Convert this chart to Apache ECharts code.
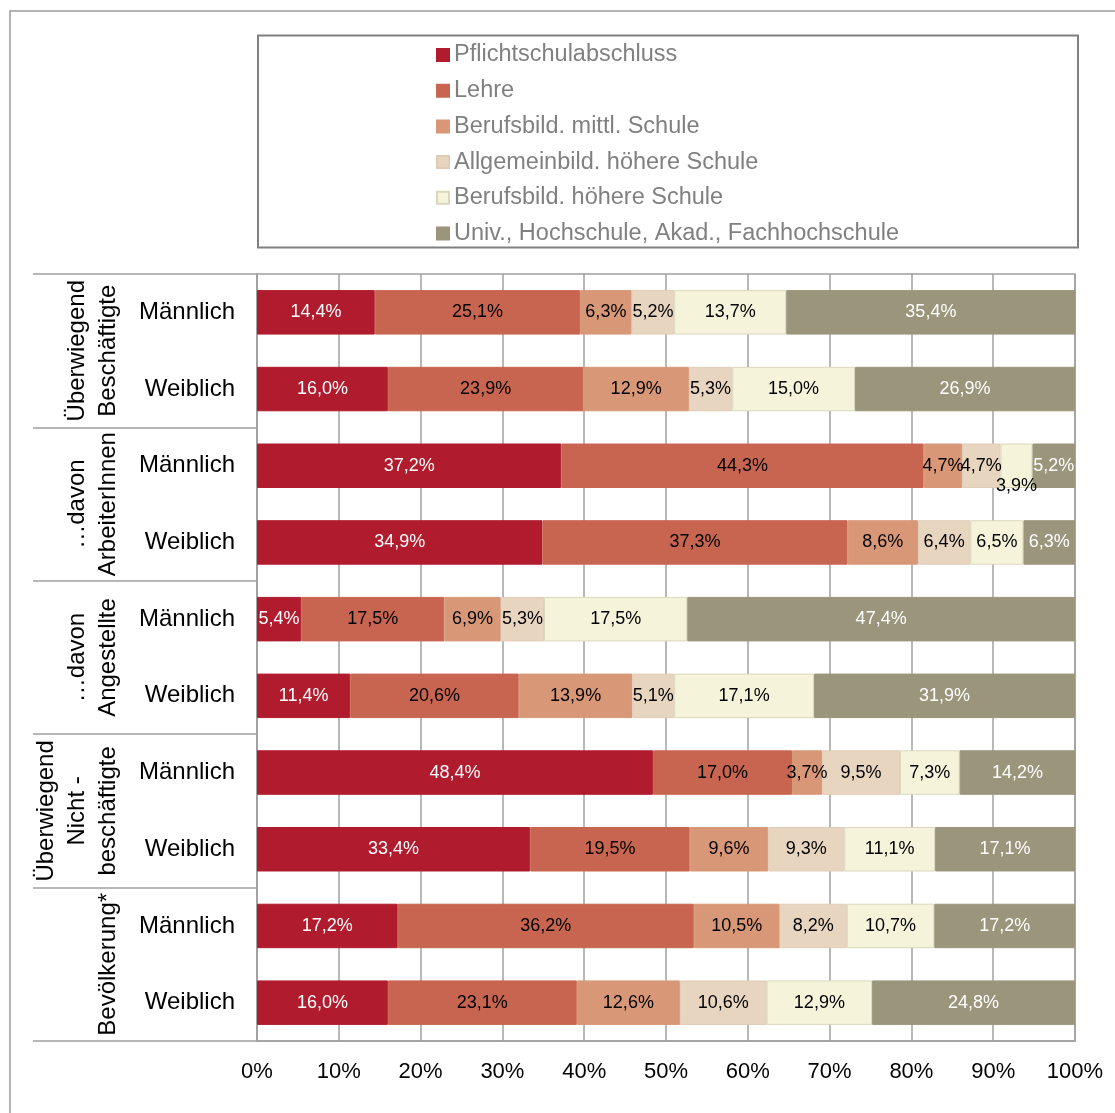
<!DOCTYPE html>
<html>
<head>
<meta charset="utf-8">
<script src="https://cdn.jsdelivr.net/npm/echarts@6/dist/echarts.min.js"></script>
<style>
html,body{margin:0;padding:0;background:#fff;}
#c{width:1115px;height:1113px;}
</style>
</head>
<body>
<div id="c"></div>
<script>
const groups = ['Überwiegend\nBeschäftigte', '…davon\nArbeiterInnen', '…davon\nAngestellte', 'Überwiegend\nNicht -\nbeschäftigte', 'Bevölkerung*'];
const genders = ['Männlich', 'Weiblich', 'Männlich', 'Weiblich', 'Männlich', 'Weiblich', 'Männlich', 'Weiblich', 'Männlich', 'Weiblich'];
const seriesNames = ['Pflichtschulabschluss', 'Lehre', 'Berufsbild. mittl. Schule', 'Allgemeinbild. höhere Schule', 'Berufsbild. höhere Schule', 'Univ., Hochschule, Akad., Fachhochschule'];
const pflicht   = [14.4, 16.0, 37.2, 34.9, 5.4, 11.4, 48.4, 33.4, 17.2, 16.0];
const lehre     = [25.1, 23.9, 44.3, 37.3, 17.5, 20.6, 17.0, 19.5, 36.2, 23.1];
const mittl     = [6.3, 12.9, 4.7, 8.6, 6.9, 13.9, 3.7, 9.6, 10.5, 12.6];
const allgHoehe = [5.2, 5.3, 4.7, 6.4, 5.3, 5.1, 9.5, 9.3, 8.2, 10.6];
const berufHoehe= [13.7, 15.0, 3.9, 6.5, 17.5, 17.1, 7.3, 11.1, 10.7, 12.9];
const univ      = [35.4, 26.9, 5.2, 6.3, 47.4, 31.9, 14.2, 17.1, 17.2, 24.8];
const xTicks = [0, 10, 20, 30, 40, 50, 60, 70, 80, 90, 100];

const values = [pflicht, lehre, mittl, allgHoehe, berufHoehe, univ];
const colors = ['#B01C2E', '#C86550', '#D89878', '#E8D5C0', '#F6F3DB', '#9B957C'];
const borders = ['#B01C2E', '#C86550', '#D89878', '#E0CCB6', '#DAD7BC', '#9B957C'];
const labelColors = ['#ffffff', '#000000', '#000000', '#000000', '#000000', '#ffffff'];
const FONT = '"Liberation Sans", Arial, sans-serif';
const gray = '#A0A0A0';

const series = values.map((arr, si) => ({
  name: seriesNames[si],
  type: 'bar',
  stack: 'all',
  yAxisIndex: 0,
  barCategoryGap: '42%',
  itemStyle: { color: colors[si], borderColor: borders[si], borderWidth: 1 },
  label: {
    show: true,
    position: 'inside',
    color: labelColors[si],
    fontSize: 18,
    fontFamily: FONT,
    formatter: p => p.value.toFixed(1).replace('.', ',') + '%'
  },
  data: arr.map((v, i) => {
    // small Berufsbild. höhere Schule label in ArbeiterInnen/Männlich sits below the bar
    if (si === 4 && i === 2) return { value: v, label: { offset: [0, 20] } };
    return v;
  })
}));

const chart = echarts.init(document.getElementById('c'), null, { renderer: 'canvas' });
chart.setOption({
  animation: false,
  backgroundColor: '#ffffff',
  textStyle: { fontFamily: FONT },
  graphic: [
    { type: 'rect', shape: { x: 10, y: 11, width: 1300, height: 1300 }, style: { fill: 'none', stroke: '#9A9A9A', lineWidth: 1.5 }, silent: true, z: -1 },
    { type: 'rect', shape: { x: 258, y: 35.5, width: 820, height: 212 }, style: { fill: 'none', stroke: '#808080', lineWidth: 2 }, silent: true, z: -1 }
  ],
  legend: {
    orient: 'vertical',
    left: 431,
    top: 38,
    itemWidth: 12,
    itemHeight: 12,
    itemGap: 11.7,
    icon: 'rect',
    textStyle: { fontSize: 23.5, color: '#808080', fontFamily: FONT, lineHeight: 24 },
    data: seriesNames
  },
  grid: {
    left: 257, right: 40, top: 274, bottom: 72,
    show: true, borderColor: gray, borderWidth: 1.5, containLabel: false
  },
  xAxis: {
    type: 'value',
    min: xTicks[0],
    max: xTicks[xTicks.length - 1],
    interval: 10,
    axisLine: { show: true, lineStyle: { color: gray, width: 1.5 } },
    axisTick: { show: false },
    splitLine: { show: true, lineStyle: { color: gray, width: 1.5 } },
    axisLabel: { fontSize: 22, color: '#000', margin: 20, fontFamily: FONT, formatter: '{value}%' }
  },
  yAxis: [
    {
      type: 'category',
      inverse: true,
      position: 'left',
      data: genders.map((g, i) => 'r' + i),
      axisLine: { show: false },
      axisTick: { show: false },
      axisLabel: { interval: 0, fontSize: 24, color: '#000', margin: 22, fontFamily: FONT, formatter: (v, i) => genders[i] }
    },
    {
      type: 'category',
      inverse: true,
      position: 'left',
      data: groups,
      axisLine: { show: true, lineStyle: { color: gray, width: 1.5 } },
      axisTick: { show: true, interval: 0, length: 224, lineStyle: { color: gray, width: 1.5 } },
      axisLabel: { interval: 0, rotate: 90, fontSize: 24, lineHeight: 31, color: '#000', margin: 133, fontFamily: FONT, align: 'center' }
    }
  ],
  series: series
});
</script>
</body>
</html>
